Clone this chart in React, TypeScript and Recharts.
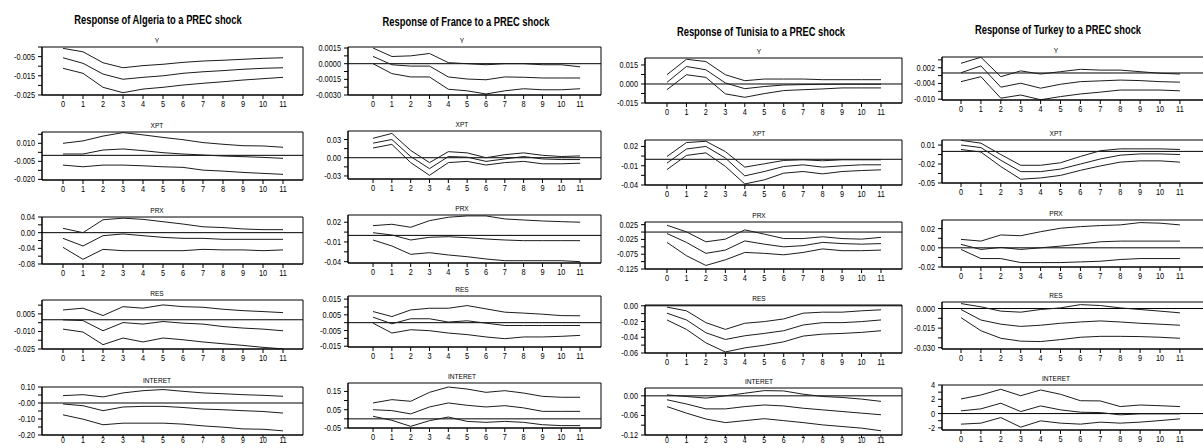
import React from 'react';
import { LineChart, Line, XAxis, YAxis, ReferenceLine, ReferenceArea } from 'recharts';

const periods = [0, 1, 2, 3, 4, 5, 6, 7, 8, 9, 10, 11];
const countries = ['Algeria', 'France', 'Tunisia', 'Turkey'];
const variables = ['Y', 'XPT', 'PRX', 'RES', 'INTERET'];

// ---------- Algeria ----------
const algY_up = [-0.0007, -0.0025, -0.0082, -0.0108, -0.0097, -0.009, -0.008, -0.0073, -0.0069, -0.0064, -0.0059, -0.0056];
const algY_mid = [-0.0056, -0.0085, -0.0141, -0.0168, -0.0158, -0.015, -0.0137, -0.0129, -0.0123, -0.0116, -0.0111, -0.0108];
const algY_lo = [-0.0111, -0.0137, -0.021, -0.0238, -0.0219, -0.021, -0.0198, -0.0189, -0.0181, -0.0172, -0.0165, -0.0158];
const algXPT_up = [0.010, 0.012, 0.016, 0.0189, 0.017, 0.0149, 0.013, 0.0106, 0.0092, 0.008, 0.0078, 0.0067];
const algXPT_mid = [0.0011, 0.0011, 0.0044, 0.0053, 0.0039, 0.0022, 0.0011, 0.0003, -0.0006, -0.0011, -0.0017, -0.0025];
const algXPT_lo = [-0.0081, -0.0095, -0.0081, -0.0081, -0.0087, -0.0095, -0.01, -0.0123, -0.0131, -0.0142, -0.015, -0.0158];
const algPRX_up = [0.011, 0.0, 0.033, 0.037, 0.034, 0.028, 0.022, 0.015, 0.013, 0.0095, 0.0077, 0.0077];
const algPRX_mid = [-0.0145, -0.034, -0.0077, -0.0033, -0.0077, -0.012, -0.0145, -0.0145, -0.017, -0.017, -0.017, -0.017];
const algPRX_lo = [-0.0375, -0.068, -0.0426, -0.046, -0.046, -0.046, -0.046, -0.0426, -0.044, -0.044, -0.046, -0.044];
const algRES_up = [0.0084, 0.0099, 0.0036, 0.0112, 0.0099, 0.0127, 0.0112, 0.0107, 0.009, 0.0078, 0.007, 0.0061];
const algRES_mid = [-0.0001, -0.0007, -0.0094, -0.0024, -0.0037, -0.0015, -0.0029, -0.0037, -0.0058, -0.0071, -0.008, -0.0094];
const algRES_lo = [-0.008, -0.0105, -0.0213, -0.0156, -0.019, -0.0156, -0.0171, -0.019, -0.0205, -0.0219, -0.0236, -0.0249];
const algINT_up = [0.046, 0.052, 0.038, 0.063, 0.077, 0.084, 0.073, 0.063, 0.058, 0.052, 0.048, 0.042];
const algINT_mid = [-0.006, -0.017, -0.048, -0.025, -0.021, -0.021, -0.028, -0.038, -0.042, -0.048, -0.053, -0.063];
const algINT_lo = [-0.074, -0.101, -0.136, -0.126, -0.126, -0.126, -0.132, -0.143, -0.151, -0.162, -0.164, -0.174];

// ---------- France ----------
const fraY_up = [0.0015, 0.00069, 0.00075, 0.00098, 0.0001, 0, -0.0001, 0, 0, -0.0001, -0.0001, -0.0003];
const fraY_mid = [0.0007, -0.0001, -0.00023, -0.00023, -0.00127, -0.00147, -0.00154, -0.00127, -0.0013, -0.00137, -0.00137, -0.00137];
const fraY_lo = [0, -0.00095, -0.00127, -0.00127, -0.00245, -0.0026, -0.0029, -0.0026, -0.0024, -0.0025, -0.0025, -0.0024];
const fraXPT_up = [0.032, 0.040, 0.012, -0.008, 0.010, 0.008, 0.0, 0.005, 0.008, 0.004, 0.002, 0.003];
const fraXPT_mid = [0.024, 0.030, 0.002, -0.018, 0.002, 0.001, -0.006, -0.002, 0.002, -0.002, -0.003, -0.003];
const fraXPT_lo = [0.016, 0.022, -0.008, -0.029, -0.008, -0.006, -0.012, -0.008, -0.006, -0.010, -0.010, -0.009];
const fraPRX_up = [0.0148, 0.0169, 0.0123, 0.0224, 0.0276, 0.0296, 0.0296, 0.025, 0.0234, 0.0219, 0.0209, 0.02];
const fraPRX_mid = [0.0041, 0.0006, -0.007, -0.0029, -0.002, -0.0035, -0.0055, -0.007, -0.008, -0.008, -0.008, -0.008];
const fraPRX_lo = [-0.007, -0.0161, -0.0288, -0.0263, -0.0298, -0.0324, -0.0359, -0.0385, -0.0385, -0.0385, -0.0385, -0.04];
const fraRES_up = [0.0071, 0.0039, 0.0081, 0.0092, 0.0092, 0.0109, 0.0088, 0.0067, 0.0061, 0.0054, 0.0045, 0.0044];
const fraRES_mid = [0.0035, -0.0007, 0.0025, 0.0025, 0.0004, 0.0012, -0.0003, -0.0018, -0.0018, -0.0018, -0.0018, -0.0018];
const fraRES_lo = [-0.0003, -0.0066, -0.0045, -0.0051, -0.0066, -0.0076, -0.0091, -0.0102, -0.0091, -0.0091, -0.0087, -0.0081];
const fraINT_up = [0.087, 0.105, 0.096, 0.145, 0.174, 0.163, 0.145, 0.154, 0.141, 0.123, 0.118, 0.118];
const fraINT_mid = [0.05, 0.045, 0.027, 0.065, 0.087, 0.074, 0.065, 0.072, 0.06, 0.041, 0.041, 0.041];
const fraINT_lo = [0.014, -0.008, -0.041, -0.01, 0.01, -0.014, -0.019, -0.014, -0.019, -0.032, -0.037, -0.037];

// ---------- Tunisia ----------
const tunY_up = [0.0073, 0.0195, 0.0177, 0.0073, 0.0026, 0.0039, 0.0039, 0.0039, 0.0034, 0.0034, 0.0034, 0.0034];
const tunY_mid = [0.0013, 0.0138, 0.0112, 0.0008, -0.0037, -0.002, -0.0008, -0.0005, -0.0003, -0.0002, -0.0002, -0.0002];
const tunY_lo = [-0.0045, 0.0073, 0.0052, -0.0078, -0.0105, -0.0076, -0.0052, -0.0045, -0.0039, -0.0031, -0.0031, -0.0031];
const tunXPT_up = [0.0044, 0.026, 0.028, 0.012, -0.0122, -0.007, -0.0018, -0.0008, -0.0023, -0.0008, -0.0008, -0.0008];
const tunXPT_mid = [-0.006, 0.016, 0.020, 0.002, -0.0258, -0.019, -0.0112, -0.0086, -0.0122, -0.0102, -0.0086, -0.0086];
const tunXPT_lo = [-0.016, 0.006, 0.010, -0.011, -0.0384, -0.032, -0.0216, -0.019, -0.0227, -0.019, -0.0175, -0.0164];
const tunPRX_up = [0.023, 0.0007, -0.033, -0.024, 0.0074, -0.007, -0.022, -0.022, -0.016, -0.022, -0.024, -0.018];
const tunPRX_mid = [-0.005, -0.035, -0.072, -0.061, -0.03, -0.041, -0.05, -0.046, -0.035, -0.039, -0.041, -0.039];
const tunPRX_lo = [-0.035, -0.08, -0.113, -0.094, -0.069, -0.072, -0.077, -0.069, -0.057, -0.063, -0.063, -0.061];
const tunRES_up = [-0.0017, -0.0064, -0.0214, -0.03, -0.0222, -0.0201, -0.0167, -0.0094, -0.0081, -0.0081, -0.0064, -0.0051];
const tunRES_mid = [-0.0094, -0.018, -0.0343, -0.0428, -0.0381, -0.0351, -0.0317, -0.0244, -0.0214, -0.0214, -0.0201, -0.018];
const tunRES_lo = [-0.018, -0.03, -0.0471, -0.0587, -0.0535, -0.0501, -0.0458, -0.0385, -0.036, -0.0351, -0.0338, -0.0317];
const tunINT_up = [0.003, -0.002, -0.007, 0, 0.008, 0.016, 0.015, 0.005, -0.002, -0.005, -0.01, -0.017];
const tunINT_mid = [-0.012, -0.025, -0.04, -0.04, -0.033, -0.028, -0.031, -0.038, -0.043, -0.048, -0.053, -0.058];
const tunINT_lo = [-0.033, -0.053, -0.071, -0.082, -0.076, -0.07, -0.076, -0.082, -0.089, -0.094, -0.099, -0.107];

// ---------- Turkey ----------
const turY_up = [0.0037, 0.006, -0.0014, 0.0008, -0.0004, 0.0005, 0.0014, 0.0011, 0.0011, 0.0005, -0.0001, -0.0004];
const turY_mid = [0.0001, 0.0027, -0.0054, -0.0039, -0.0058, -0.0043, -0.0033, -0.003, -0.0027, -0.0029, -0.0033, -0.0035];
const turY_lo = [-0.0033, -0.0014, -0.0096, -0.0084, -0.0102, -0.009, -0.008, -0.0073, -0.0065, -0.0065, -0.0065, -0.0068];
const turXPT_up = [0.0175, 0.013, -0.005, -0.022, -0.022, -0.018, -0.008, 0.001, 0.004, 0.004, 0.004, 0.003];
const turXPT_mid = [0.010, 0.006, -0.014, -0.032, -0.032, -0.028, -0.020, -0.012, -0.006, -0.004, -0.004, -0.005];
const turXPT_lo = [0.003, -0.001, -0.024, -0.044, -0.042, -0.038, -0.030, -0.023, -0.017, -0.015, -0.015, -0.017];
const turPRX_up = [0.0088, 0.007, 0.0134, 0.0126, 0.0168, 0.0204, 0.0221, 0.0232, 0.0239, 0.0263, 0.0257, 0.0239];
const turPRX_mid = [0.0036, -0.0017, 0.0004, -0.0017, 0, 0.0018, 0.0039, 0.0063, 0.007, 0.007, 0.007, 0.007];
const turPRX_lo = [-0.0017, -0.0112, -0.0112, -0.0154, -0.0154, -0.0154, -0.0147, -0.014, -0.0122, -0.0112, -0.0112, -0.0112];
const turRES_up = [0.0038, 0.0013, -0.002, -0.0028, -0.00075, 0.0005, 0.003, 0.0023, 0.0005, -0.00075, -0.002, -0.0033];
const turRES_mid = [-0.00075, -0.0088, -0.012, -0.0137, -0.0128, -0.0113, -0.0103, -0.0095, -0.0103, -0.0113, -0.012, -0.0128];
const turRES_lo = [-0.007, -0.017, -0.0228, -0.025, -0.0253, -0.0238, -0.022, -0.0213, -0.0213, -0.0215, -0.022, -0.0228];
const turINT_up = [2.05, 2.6, 3.4, 2.5, 3.3, 2.7, 1.8, 1.77, 0.98, 1.2, 1.1, 0.98];
const turINT_mid = [0.38, 0.66, 1.45, 0.28, 1.07, 0.52, 0.19, 0.14, -0.18, -0.04, -0.04, -0.04];
const turINT_lo = [-1.48, -1.34, -0.56, -1.9, -1.02, -1.34, -1.48, -1.2, -1.34, -1.2, -0.98, -0.74];

// ---------- tick labels (as printed) ----------
const algTicks = [['-0.005', '-0.015', '-0.025'], ['0.010', '-0.005', '-0.020'], ['0.04', '0.00', '-0.04', '-0.08'], ['0.005', '-0.010', '-0.025'], ['0.10', '-0.00', '-0.10', '-0.20']];
const fraTicks = [['0.0015', '0.0000', '-0.0015', '-0.0030'], ['0.03', '0.00', '-0.03'], ['0.02', '-0.01', '-0.04'], ['0.015', '0.005', '-0.005', '-0.015'], ['0.15', '0.05', '-0.05']];
const tunTicks = [['0.015', '0.000', '-0.015'], ['0.02', '-0.01', '-0.04'], ['0.025', '-0.025', '-0.075', '-0.125'], ['0.00', '-0.02', '-0.04', '-0.06'], ['0.00', '-0.06', '-0.12']];
const turTicks = [['0.002', '-0.004', '-0.010'], ['0.01', '-0.02', '-0.05'], ['0.02', '0.00', '-0.02'], ['0.000', '-0.015', '-0.030'], ['4', '2', '0', '-2']];

const FONT = "'Liberation Sans', Arial, sans-serif";
const INK = '#000';
const LINE = '#1c1c1c';
const SX = 0.82;

type Box = { top: number; bottom: number; domain: [number, number] };
type Col = {
  left: number; right: number; xDomain: [number, number];
  titleX: number; titleY: number; subX: number;
  rows: Box[];
  ticks: string[][];
  series: number[][][];
};

const YW = 50;
const XH = 22;
const TM = 8;

function SText({ x, y, anchor, dy, size, children }: any) {
  return (
    <g transform={`translate(${x},${y}) scale(${SX},1)`}>
      <text x={0} y={0} dy={dy} textAnchor={anchor} fontSize={size} fontFamily={FONT} fill={INK}>
        {children}
      </text>
    </g>
  );
}

function Panel({ col, r }: { col: Col; r: number }) {
  const box = col.rows[r];
  const labels = col.ticks[r];
  const [up, mid, lo] = col.series[r];
  const data = periods.map((t, i) => ({ t, up: up[i], mid: mid[i], lo: lo[i] }));
  const majors = labels.map((s) => parseFloat(s));
  const sorted = [...majors].sort((a, b) => a - b);
  const step = sorted.length > 1 ? sorted[1] - sorted[0] : 1;
  const [ymin, ymax] = box.domain;
  const all: number[] = [];
  for (let k = -6; k <= 2 * (sorted.length - 1) + 6; k++) {
    const v = sorted[0] + (k * step) / 2;
    if (v >= ymin - step * 0.02 && v <= ymax + step * 0.02) all.push(v);
  }
  const w = col.right - col.left;
  const h = box.bottom - box.top;
  // keep the last row's period labels inside the 448px frame
  const tight = box.bottom >= 432;
  const renderYTick = (props: any) => {
    const { x, y, payload } = props;
    const idx = majors.findIndex((m) => Math.abs(m - payload.value) < Math.abs(step) * 0.05);
    if (idx < 0) return <g />;
    return (
      <SText x={x} y={y} dy={3} anchor="end" size={9}>
        {labels[idx]}
      </SText>
    );
  };
  const renderXTick = (props: any) => {
    const { x, y, payload } = props;
    return (
      <SText x={x} y={y} dy={tight ? '0.55em' : '0.71em'} anchor="middle" size={tight ? 8.5 : 9}>
        {payload.value}
      </SText>
    );
  };
  const showZero = 0 > ymin && 0 < ymax;
  return (
    <div style={{ position: 'absolute', left: col.left - YW, top: box.top - TM }}>
      <LineChart width={YW + w + 1} height={h + TM + XH} data={data} margin={{ top: TM, right: 1, left: 0, bottom: 0 }}>
        <XAxis
          type="number"
          dataKey="t"
          domain={col.xDomain}
          ticks={periods}
          interval={0}
          allowDataOverflow
          tickSize={tight ? 3 : 4}
          tickMargin={tight ? 0 : 2}
          height={XH}
          stroke={INK}
          tick={renderXTick}
        />
        <YAxis
          type="number"
          domain={box.domain}
          ticks={all}
          interval={0}
          allowDataOverflow
          tickSize={4}
          tickMargin={3}
          width={YW}
          stroke={INK}
          tick={renderYTick}
        />
        <ReferenceArea x1={col.xDomain[0]} x2={col.xDomain[1]} y1={ymin} y2={ymax} fill="none" stroke={INK} strokeWidth={1} ifOverflow="visible" />
        {showZero && <ReferenceLine y={0} stroke={INK} strokeWidth={1} />}
        <Line type="linear" dataKey="up" stroke={LINE} strokeWidth={1} dot={false} isAnimationActive={false} />
        <Line type="linear" dataKey="mid" stroke={LINE} strokeWidth={1} dot={false} isAnimationActive={false} />
        <Line type="linear" dataKey="lo" stroke={LINE} strokeWidth={1} dot={false} isAnimationActive={false} />
      </LineChart>
    </div>
  );
}

const cols: Col[] = [
  {
    left: 42, right: 303, xDomain: [-1.05, 12], titleX: 158, titleY: 20, subX: 157,
    rows: [
      { top: 47, bottom: 95, domain: [-0.025, 0.0] },
      { top: 132, bottom: 180, domain: [-0.0205, 0.0194] },
      { top: 217, bottom: 264, domain: [-0.08, 0.04] },
      { top: 300, bottom: 349, domain: [-0.025, 0.0169] },
      { top: 387, bottom: 435, domain: [-0.2, 0.1] },
    ],
    ticks: algTicks,
    series: [
      [algY_up, algY_mid, algY_lo],
      [algXPT_up, algXPT_mid, algXPT_lo],
      [algPRX_up, algPRX_mid, algPRX_lo],
      [algRES_up, algRES_mid, algRES_lo],
      [algINT_up, algINT_mid, algINT_lo],
    ],
  },
  {
    left: 348, right: 601, xDomain: [-1.33, 12.11], titleX: 466, titleY: 22, subX: 462,
    rows: [
      { top: 47, bottom: 95, domain: [-0.003, 0.0016] },
      { top: 131, bottom: 179, domain: [-0.035, 0.044] },
      { top: 215, bottom: 263, domain: [-0.042, 0.031] },
      { top: 296, bottom: 347, domain: [-0.0155, 0.017] },
      { top: 383, bottom: 428, domain: [-0.05, 0.196] },
    ],
    ticks: fraTicks,
    series: [
      [fraY_up, fraY_mid, fraY_lo],
      [fraXPT_up, fraXPT_mid, fraXPT_lo],
      [fraPRX_up, fraPRX_mid, fraPRX_lo],
      [fraRES_up, fraRES_mid, fraRES_lo],
      [fraINT_up, fraINT_mid, fraINT_lo],
    ],
  },
  {
    left: 645, right: 902, xDomain: [-1.13, 12.08], titleX: 761, titleY: 32, subX: 759,
    rows: [
      { top: 58, bottom: 103, domain: [-0.015, 0.0205] },
      { top: 140, bottom: 185, domain: [-0.04, 0.030] },
      { top: 222, bottom: 269, domain: [-0.125, 0.034] },
      { top: 305, bottom: 353, domain: [-0.06, 0.001] },
      { top: 388, bottom: 435, domain: [-0.12, 0.024] },
    ],
    ticks: tunTicks,
    series: [
      [tunY_up, tunY_mid, tunY_lo],
      [tunXPT_up, tunXPT_mid, tunXPT_lo],
      [tunPRX_up, tunPRX_mid, tunPRX_lo],
      [tunRES_up, tunRES_mid, tunRES_lo],
      [tunINT_up, tunINT_mid, tunINT_lo],
    ],
  },
  {
    left: 942, right: 1204, xDomain: [-0.955, 12.21], titleX: 1058, titleY: 30, subX: 1056,
    rows: [
      { top: 57, bottom: 100, domain: [-0.0103, 0.0061] },
      { top: 140, bottom: 183, domain: [-0.05, 0.018] },
      { top: 220, bottom: 267, domain: [-0.02, 0.029] },
      { top: 302, bottom: 349, domain: [-0.031, 0.005] },
      { top: 385, bottom: 430, domain: [-2.3, 4] },
    ],
    ticks: turTicks,
    series: [
      [turY_up, turY_mid, turY_lo],
      [turXPT_up, turXPT_mid, turXPT_lo],
      [turPRX_up, turPRX_mid, turPRX_lo],
      [turRES_up, turRES_mid, turRES_lo],
      [turINT_up, turINT_mid, turINT_lo],
    ],
  },
];

export default function App() {
  return (
    <div style={{ position: 'absolute', left: 0, top: 0, width: 1203, height: 448, overflow: 'hidden', background: '#fff' }}>
      {cols.map((col, c) => (
        <React.Fragment key={c}>
          <div
            style={{
              position: 'absolute', left: col.titleX, top: col.titleY, transform: `translate(-50%, -50%) scaleX(${SX * 0.95})`,
              fontFamily: FONT, fontWeight: 'bold', fontSize: 12, color: INK, whiteSpace: 'nowrap', lineHeight: '14px',
            }}
          >
            {`Response of ${countries[c]} to a PREC shock`}
          </div>
          {variables.map((v, r) => (
            <React.Fragment key={r}>
              <div
                style={{
                  position: 'absolute', left: col.subX, top: col.rows[r].top - 6, transform: `translate(-50%, -50%) scaleX(${SX})`,
                  fontFamily: FONT, fontSize: 8, color: INK, whiteSpace: 'nowrap', lineHeight: '10px',
                }}
              >
                {v}
              </div>
              <Panel col={col} r={r} />
            </React.Fragment>
          ))}
        </React.Fragment>
      ))}
    </div>
  );
}
